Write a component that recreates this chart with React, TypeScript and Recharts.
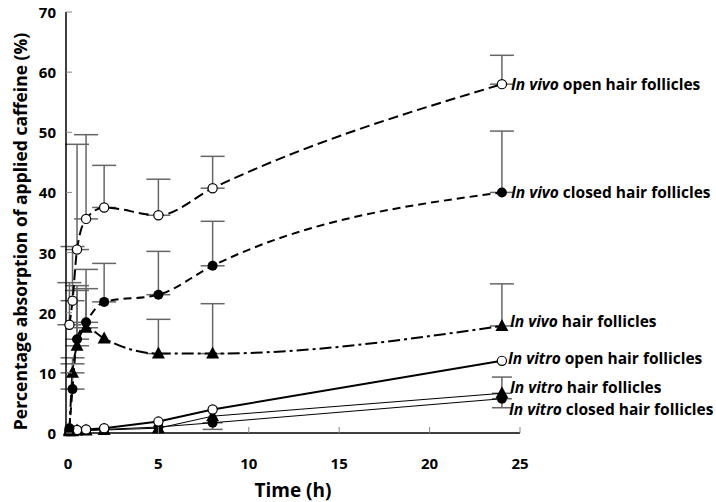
import { LineChart, Line, XAxis, YAxis, ErrorBar, LabelList } from "recharts";

// sampling times (h)
const times = [0.08, 0.25, 0.5, 1, 2, 5, 8, 24];

// percentage absorption of applied caffeine
const vivoOpen = [18, 22, 30.5, 35.6, 37.5, 36.2, 40.7, 58];
const vivoOpenErr = [7, 9, 17.5, 14, 7, 6, 5.3, 4.8];
const vivoClosed = [0.8, 7.3, 15.6, 18.4, 21.8, 23, 27.8, 40];
const vivoClosedErr = [null, 5.2, 8.9, 8.8, 6.4, 7.2, 7.4, 10.2];
const vivoFoll = [0.5, 10, 14.5, 17.5, 15.7, 13.2, 13.2, 17.8];
const vivoFollErr = [null, 1.5, 9.2, 6.5, null, 5.7, 8.3, 7];
const vitroOpen = [0.4, 0.4, 0.5, 0.6, 0.8, 1.9, 3.9, 12];
const vitroFoll = [0.3, 0.3, 0.4, 0.4, 0.5, 0.8, 2.8, 6.6];
const vitroFollErr = [null, null, null, null, null, null, null, 2.7];
const vitroClosed = [0.3, 0.4, 0.4, 0.5, 0.6, 1.0, 1.7, 5.7];
const vitroClosedErr = [null, null, null, null, null, null, 1.1, 1.5];

const xTicks = [0, 5, 10, 15, 20, 25];
const yTicks = [0, 10, 20, 30, 40, 50, 60, 70];

const up = (v: number | null) => (v == null ? null : [0, v]);
const down = (v: number | null) => (v == null ? null : [v, 0]);

const data = times.map((t, i) => ({
  t,
  vivoOpen: vivoOpen[i],
  vivoOpenErr: up(vivoOpenErr[i]),
  vivoClosed: vivoClosed[i],
  vivoClosedErr: up(vivoClosedErr[i]),
  vivoFoll: vivoFoll[i],
  vivoFollErr: up(vivoFollErr[i]),
  vitroOpen: vitroOpen[i],
  vitroFoll: vitroFoll[i],
  vitroFollErr: up(vitroFollErr[i]),
  vitroClosed: vitroClosed[i],
  vitroClosedErr: down(vitroClosedErr[i]),
}));

const FONT = "'Open Sans', 'DejaVu Sans', sans-serif";
const last = times.length - 1;

const openDot = (p: any) => (
  <circle key={p.index} cx={p.cx} cy={p.cy} r={4.6} fill="#fff" stroke="#000" strokeWidth={1.2} />
);
const fullDot = (p: any) => <circle key={p.index} cx={p.cx} cy={p.cy} r={5} fill="#000" />;
const triDot = (p: any) => (
  <polygon
    key={p.index}
    points={`${p.cx},${p.cy - 7} ${p.cx - 6.5},${p.cy + 5} ${p.cx + 6.5},${p.cy + 5}`}
    fill="#000"
  />
);

const endLabel = (kind: string, rest: string, dx: number, dy: number) => (p: any) =>
  p.index === last ? (
    <text
      x={p.x + dx}
      y={p.y + dy}
      dominantBaseline="central"
      fontFamily={FONT}
      fontWeight="bold"
      fontSize={15.5}
      fill="#000"
    >
      <tspan fontStyle="italic">{kind}</tspan>
      <tspan>{" " + rest}</tspan>
    </text>
  ) : null;

const YTick = (p: any) => (
  <g>
    <line x1={p.x} x2={p.x + 6} y1={p.y} y2={p.y} stroke="#888" />
    <text x={p.x - 10} y={p.y} textAnchor="end" dominantBaseline="central" fontFamily={FONT} fontWeight="bold" fontSize={15} fill="#000">
      {p.payload.value}
    </text>
  </g>
);

const XTick = (p: any) => (
  <g>
    {p.payload.value !== 0 && <line x1={p.x} x2={p.x} y1={p.y} y2={p.y - 6} stroke="#888" />}
    <text x={p.x} y={p.y + 30} textAnchor="middle" dominantBaseline="central" fontFamily={FONT} fontWeight="bold" fontSize={15} fill="#000">
      {p.payload.value}
    </text>
  </g>
);

const YTitle = (p: any) => {
  const vb = p.viewBox;
  const x = vb.x + 10;
  const y = vb.y + vb.height / 2 + 9;
  return (
    <text
      x={x}
      y={y}
      transform={`rotate(-90, ${x}, ${y})`}
      textAnchor="middle"
      dominantBaseline="central"
      fontFamily={FONT}
      fontWeight="bold"
      fontSize={17.5}
      fill="#000"
    >
      Percentage absorption of applied caffeine (%)
    </text>
  );
};

const bar = { stroke: "#666", strokeWidth: 1.5 };

export default function App() {
  return (
    <div style={{ position: "absolute", left: 0, top: 0, background: "#fff" }}>
      <LineChart width={716} height={502} data={data} margin={{ top: 12, right: 196, bottom: 3, left: 10 }}>
        <XAxis
          type="number"
          dataKey="t"
          domain={[-0.11, 25]}
          ticks={xTicks}
          tick={<XTick />}
          tickLine={false}
          tickSize={0}
          tickMargin={0}
          height={66}
          axisLine={{ stroke: "#000", strokeWidth: 1.5 }}
          label={{ value: "Time (h)", position: "insideBottom", offset: 2, style: { fontFamily: FONT, fontWeight: "bold", fontSize: 19, fill: "#000" } }}
        />
        <YAxis
          type="number"
          domain={[0, 70]}
          ticks={yTicks}
          tick={<YTick />}
          tickLine={false}
          tickSize={0}
          tickMargin={0}
          width={56}
          axisLine={{ stroke: "#000", strokeWidth: 1.5 }}
          label={<YTitle />}
        />

        <Line dataKey="vitroClosed" type="linear" stroke="#000" strokeWidth={1} dot={fullDot} isAnimationActive={false}>
          <ErrorBar dataKey="vitroClosedErr" direction="y" width={10} {...bar} />
          <LabelList dataKey="vitroClosed" content={endLabel("In vitro", "closed hair follicles", 7, 10)} />
        </Line>
        <Line dataKey="vitroFoll" type="linear" stroke="#000" strokeWidth={1} dot={triDot} isAnimationActive={false}>
          <ErrorBar dataKey="vitroFollErr" direction="y" width={10} {...bar} />
          <LabelList dataKey="vitroFoll" content={endLabel("In vitro", "hair follicles", 8, -6)} />
        </Line>
        <Line dataKey="vitroOpen" type="linear" stroke="#000" strokeWidth={2} dot={openDot} isAnimationActive={false}>
          <LabelList dataKey="vitroOpen" content={endLabel("In vitro", "open hair follicles", 6, -3)} />
        </Line>
        <Line dataKey="vivoFoll" type="monotone" stroke="#000" strokeWidth={2} strokeDasharray="12 4 3 4" dot={triDot} isAnimationActive={false}>
          <ErrorBar dataKey="vivoFollErr" direction="y" width={12} {...bar} />
          <LabelList dataKey="vivoFoll" content={endLabel("In vivo", "hair follicles", 8, -5)} />
        </Line>
        <Line dataKey="vivoClosed" type="monotone" stroke="#000" strokeWidth={2} strokeDasharray="8 5" dot={fullDot} isAnimationActive={false}>
          <ErrorBar dataKey="vivoClosedErr" direction="y" width={12} {...bar} />
          <LabelList dataKey="vivoClosed" content={endLabel("In vivo", "closed hair follicles", 9, 0)} />
        </Line>
        <Line dataKey="vivoOpen" type="monotone" stroke="#000" strokeWidth={2} strokeDasharray="10 5" dot={openDot} isAnimationActive={false}>
          <ErrorBar dataKey="vivoOpenErr" direction="y" width={12} {...bar} />
          <LabelList dataKey="vivoOpen" content={endLabel("In vivo", "open hair follicles", 9, 0)} />
        </Line>
      </LineChart>
    </div>
  );
}
